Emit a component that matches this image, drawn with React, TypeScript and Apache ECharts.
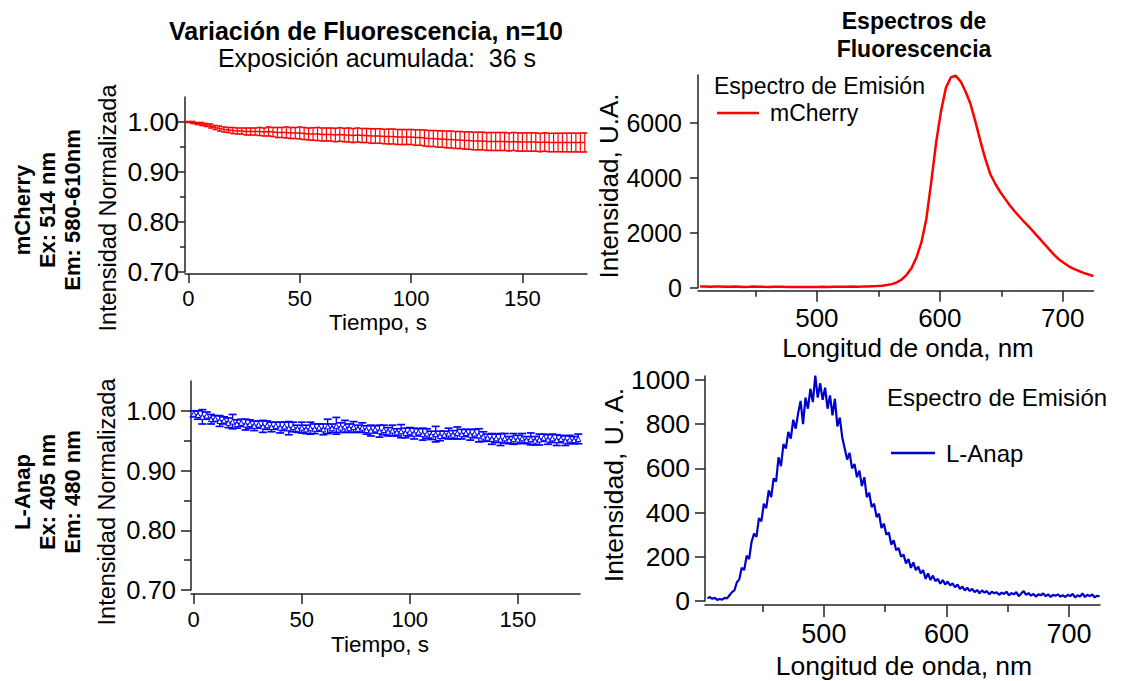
import React, { useEffect, useRef } from 'react';
import * as echarts from 'echarts';

// ---------- data ----------
const TIME_STEP = 2; // s between frames

const MCHERRY_MEAN = [
  1.000, 0.999, 0.997, 0.996, 0.994, 0.992, 0.989, 0.987, 0.985, 0.984,
  0.983, 0.982, 0.982, 0.981, 0.981, 0.981, 0.981, 0.980, 0.981, 0.980,
  0.979, 0.979, 0.979, 0.978, 0.978, 0.978, 0.977, 0.976, 0.976, 0.976,
  0.975, 0.975, 0.975, 0.974, 0.975, 0.974, 0.974, 0.973, 0.974, 0.973,
  0.973, 0.972, 0.972, 0.972, 0.971, 0.971, 0.971, 0.970, 0.970, 0.970,
  0.970, 0.969, 0.969, 0.968, 0.967, 0.967, 0.966, 0.966, 0.965, 0.965,
  0.964, 0.964, 0.963, 0.963, 0.962, 0.962, 0.962, 0.961, 0.961, 0.961,
  0.961, 0.961, 0.960, 0.961, 0.960, 0.960, 0.960, 0.960, 0.960, 0.959,
  0.960, 0.959, 0.959, 0.959, 0.959, 0.959, 0.959, 0.959, 0.959, 0.959,
];
const MCHERRY_ERR = [
  0.001, 0.002, 0.002, 0.003, 0.003, 0.004, 0.004, 0.005, 0.005, 0.005,
  0.006, 0.006, 0.006, 0.007, 0.007, 0.007, 0.008, 0.008, 0.009, 0.009,
  0.010, 0.010, 0.011, 0.011, 0.011, 0.012, 0.012, 0.012, 0.0125, 0.013,
  0.013, 0.013, 0.013, 0.0135, 0.0135, 0.0135, 0.014, 0.014, 0.014, 0.014,
  0.014, 0.0145, 0.0145, 0.0145, 0.0145, 0.015, 0.015, 0.015, 0.015, 0.015,
  0.015, 0.0155, 0.0155, 0.016, 0.016, 0.016, 0.0165, 0.0165, 0.0167, 0.017,
  0.017, 0.017, 0.0173, 0.0175, 0.0175, 0.0177, 0.0177, 0.0178, 0.018, 0.018,
  0.018, 0.018, 0.018, 0.018, 0.0182, 0.0182, 0.0182, 0.0183, 0.0183, 0.0184,
  0.0184, 0.0185, 0.0185, 0.0186, 0.0186, 0.0187, 0.0188, 0.0188, 0.019, 0.019,
];

const LANAP_MEAN = [
  0.995, 0.993, 0.990, 0.992, 0.986, 0.987, 0.983, 0.984, 0.980, 0.982,
  0.978, 0.980, 0.977, 0.978, 0.975, 0.977, 0.974, 0.976, 0.973, 0.975,
  0.972, 0.974, 0.971, 0.973, 0.970, 0.972, 0.969, 0.971, 0.970, 0.972,
  0.969, 0.974, 0.971, 0.975, 0.972, 0.974, 0.971, 0.973, 0.970, 0.972,
  0.968, 0.967, 0.969, 0.966, 0.968, 0.965, 0.967, 0.964, 0.966, 0.963,
  0.965, 0.962, 0.964, 0.961, 0.962, 0.959, 0.961, 0.958, 0.960, 0.962,
  0.960, 0.963, 0.961, 0.963, 0.960, 0.962, 0.959, 0.957, 0.955, 0.953,
  0.954, 0.952, 0.954, 0.951, 0.953, 0.952, 0.954, 0.951, 0.953, 0.950,
  0.952, 0.955, 0.952, 0.954, 0.951, 0.953, 0.950, 0.952, 0.951, 0.953,
];
const LANAP_ERR = [
  0.005, 0.007, 0.012, 0.006, 0.008, 0.005, 0.009, 0.006, 0.008, 0.012,
  0.007, 0.006, 0.009, 0.007, 0.008, 0.006, 0.010, 0.007, 0.008, 0.006,
  0.009, 0.007, 0.011, 0.008, 0.006, 0.009, 0.007, 0.010, 0.008, 0.006,
  0.009, 0.012, 0.007, 0.014, 0.008, 0.010, 0.007, 0.009, 0.006, 0.008,
  0.007, 0.009, 0.006, 0.010, 0.008, 0.007, 0.009, 0.006, 0.011, 0.008,
  0.007, 0.009, 0.006, 0.010, 0.008, 0.007, 0.013, 0.008, 0.006, 0.009,
  0.007, 0.010, 0.008, 0.006, 0.009, 0.007, 0.011, 0.008, 0.006, 0.009,
  0.007, 0.010, 0.008, 0.006, 0.009, 0.007, 0.008, 0.006, 0.010, 0.007,
  0.009, 0.006, 0.008, 0.007, 0.009, 0.006, 0.008, 0.007, 0.006, 0.008,
];

const MCHERRY_WL_START = 405;
const MCHERRY_WL_STEP = 4;
const MCHERRY_SPECTRUM = [
  40, 45, 38, 42, 40, 35, 38, 42, 36, 30,
  34, 40, 36, 32, 30, 35, 38, 33, 30, 28,
  25, 30, 28, 24, 28, 32, 30, 35, 38, 33,
  36, 40, 38, 42, 48, 55, 62, 75, 95, 130,
  195, 300, 470, 720, 1100, 1650, 2500, 3850, 5300, 6450,
  7300, 7680, 7730, 7520, 7150, 6700, 6050, 5350, 4700, 4150,
  3800, 3500, 3250, 3000, 2780, 2580, 2380, 2200, 2000, 1800,
  1600, 1400, 1200, 1030, 900, 780, 690, 610, 540, 480,
  420,
];

const LANAP_WL_START = 405;
const LANAP_WL_STEP = 2;
const LANAP_SPECTRUM = [
  12, 18, 10, 14, 5, 9, 6, 14, 12, 26,
  40, 48, 85, 98, 150, 140, 205, 190, 268, 305,
  290, 375, 360, 440, 420, 500, 470, 555, 540, 650,
  610, 710, 690, 765, 735, 820, 780, 850, 905, 800,
  920, 870, 960, 900, 1020, 920, 985, 910, 965, 870,
  930, 840, 915, 790, 830, 740, 690, 640, 670, 600,
  620, 560, 590, 520, 560, 470, 490, 425, 440, 380,
  395, 330, 350, 300, 310, 255, 275, 230, 240, 200,
  210, 170, 190, 150, 175, 140, 155, 125, 140, 100,
  125, 95, 115, 90, 100, 78, 95, 75, 88, 70,
  80, 62, 75, 55, 65, 48, 60, 45, 55, 40,
  50, 35, 48, 38, 45, 30, 42, 35, 40, 28,
  38, 32, 42, 25, 36, 30, 40, 22, 34, 45,
  28, 36, 24, 32, 20, 30, 26, 34, 22, 30,
  18, 28, 24, 30, 20, 26, 18, 28, 22, 32,
  16, 26, 20, 34, 18, 28, 22, 30, 16, 24,
  20,
];

const TIME_TICKS = [0, 50, 100, 150];
const NORM_TICKS = [0.7, 0.8, 0.9, 1.0];
const NORM_MINOR = [0.75, 0.85, 0.95];
const WL_TICKS = [500, 600, 700];
const WL_MINOR = [450, 550, 650];
const CHERRY_Y_TICKS = [0, 2000, 4000, 6000];
const ANAP_Y_TICKS = [0, 200, 400, 600, 800, 1000];

// ---------- styling ----------
const FONT = '"Liberation Sans", Arial, Helvetica, sans-serif';
const AX = '#222';
const RED = '#ff0000';
const BLUE = '#0000ff';
const DBLUE = '#0000cd';

type AxOpt = {
  grid: number; min: number; max: number; ticks: number[];
  offset?: number; tickLen: number; fontSize?: number; margin?: number;
  fmt?: (v: number) => string; minor?: boolean; pos: string;
};

function axis(o: AxOpt) {
  return {
    type: 'value', gridIndex: o.grid, min: o.min, max: o.max, position: o.pos,
    offset: o.offset || 0, scale: true,
    axisLine: { show: !o.minor, onZero: false, lineStyle: { color: AX, width: 1.5 } },
    axisTick: { show: true, customValues: o.ticks, length: o.tickLen, lineStyle: { color: AX, width: 1.5 } },
    axisLabel: {
      show: !o.minor, customValues: o.ticks, margin: o.margin || 8, color: '#000',
      fontSize: o.fontSize || 20, fontFamily: FONT, formatter: o.fmt || ((v: number) => String(Math.round(v))),
    },
    splitLine: { show: false }, minorTick: { show: false }, minorSplitLine: { show: false },
  };
}

function errorBars(xIdx: number, yIdx: number, means: number[], errs: number[], color: string, capW: number, lw: number) {
  const data = means.map((m, i) => [i * TIME_STEP, m, errs[i]]);
  return {
    type: 'custom', xAxisIndex: xIdx, yAxisIndex: yIdx, data, encode: { x: 0, y: 1 }, silent: true, z: 2,
    renderItem: (_p: any, api: any) => {
      const x = api.value(0), y = api.value(1), e = api.value(2);
      const a = api.coord([x, y + e]);
      const b = api.coord([x, y - e]);
      const h = capW / 2;
      const st = { stroke: color, lineWidth: lw };
      return {
        type: 'group', children: [
          { type: 'line', shape: { x1: a[0], y1: a[1], x2: b[0], y2: b[1] }, style: st },
          { type: 'line', shape: { x1: a[0] - h, y1: a[1], x2: a[0] + h, y2: a[1] }, style: { stroke: color, lineWidth: lw + 0.4 } },
          { type: 'line', shape: { x1: b[0] - h, y1: b[1], x2: b[0] + h, y2: b[1] }, style: { stroke: color, lineWidth: lw + 0.4 } },
        ],
      };
    },
  };
}

function txt(text: string, x: number, y: number, size: number, opts: any = {}) {
  return {
    type: 'text', x, y, rotation: opts.rot || 0, silent: true,
    style: {
      text, fill: '#000', fontSize: size, fontFamily: FONT, fontWeight: opts.bold ? 'bold' : 'normal',
      align: opts.align || 'center', verticalAlign: 'middle', lineHeight: opts.lh || size * 1.15,
    },
  };
}

const fmt2 = (v: number) => v.toFixed(2);

export default function App() {
  const ref = useRef<HTMLDivElement>(null);
  useEffect(() => {
    if (!ref.current) return;
    const chart = echarts.init(ref.current, undefined, { renderer: 'svg' });
    const R = Math.PI / 2;
    const option: any = {
      animation: false,
      backgroundColor: '#fff',
      textStyle: { fontFamily: FONT },
      grid: [
        { left: 185, top: 97, width: 402, height: 175, outerBoundsMode: 'none' },
        { left: 191, top: 381, width: 389, height: 209, outerBoundsMode: 'none' },
        { left: 698, top: 75, width: 395.5, height: 212.7, outerBoundsMode: 'none' },
        { left: 705, top: 376, width: 395, height: 225, outerBoundsMode: 'none' },
      ],
      xAxis: [
        axis({ grid: 0, min: -1.5, max: 179, ticks: TIME_TICKS, offset: 2, tickLen: 9, fontSize: 22, margin: 13, pos: 'bottom' }),
        axis({ grid: 1, min: -1.25, max: 178.8, ticks: TIME_TICKS, offset: 4, tickLen: 10, fontSize: 22, margin: 14, pos: 'bottom' }),
        axis({ grid: 2, min: 403.3, max: 725, ticks: WL_TICKS, offset: 3, tickLen: 11, fontSize: 26, margin: 14, pos: 'bottom' }),
        axis({ grid: 3, min: 403, max: 725.3, ticks: WL_TICKS, offset: 4, tickLen: 12, fontSize: 27, margin: 15, pos: 'bottom' }),
        axis({ grid: 2, min: 403.3, max: 725, ticks: WL_MINOR, offset: 3, tickLen: 6, minor: true, pos: 'bottom' }),
        axis({ grid: 3, min: 403, max: 725.3, ticks: WL_MINOR, offset: 4, tickLen: 7, minor: true, pos: 'bottom' }),
      ],
      yAxis: [
        axis({ grid: 0, min: 0.7, max: 1.05, ticks: NORM_TICKS, tickLen: 7, fontSize: 26.5, margin: 6, fmt: fmt2, pos: 'left' }),
        axis({ grid: 1, min: 0.7, max: 1.05, ticks: NORM_TICKS, tickLen: 10, fontSize: 25.5, margin: 15, fmt: fmt2, pos: 'left' }),
        axis({ grid: 2, min: 0, max: 7760, ticks: CHERRY_Y_TICKS, tickLen: 8, fontSize: 25, margin: 16, pos: 'left' }),
        axis({ grid: 3, min: 0, max: 1018, ticks: ANAP_Y_TICKS, tickLen: 10, fontSize: 26.5, margin: 15, pos: 'left' }),
        axis({ grid: 0, min: 0.7, max: 1.05, ticks: NORM_MINOR, tickLen: 5, minor: true, pos: 'left' }),
        axis({ grid: 1, min: 0.7, max: 1.05, ticks: NORM_MINOR, tickLen: 7, minor: true, pos: 'left' }),
      ],
      series: [
        errorBars(0, 0, MCHERRY_MEAN, MCHERRY_ERR, RED, 5, 1.2),
        {
          type: 'line', xAxisIndex: 0, yAxisIndex: 0, showSymbol: false, silent: true, z: 3,
          data: MCHERRY_MEAN.map((m, i) => [i * TIME_STEP, m]),
          lineStyle: { color: RED, width: 1.5 },
        },
        errorBars(1, 1, LANAP_MEAN, LANAP_ERR, BLUE, 8, 1.3),
        {
          type: 'line', xAxisIndex: 1, yAxisIndex: 1, silent: true, z: 3,
          symbol: 'triangle', symbolSize: 5, showSymbol: true,
          itemStyle: { color: '#fff', borderColor: BLUE, borderWidth: 1 },
          data: LANAP_MEAN.map((m, i) => [i * TIME_STEP, m]),
          lineStyle: { color: BLUE, width: 1.3 },
        },
        {
          type: 'line', xAxisIndex: 2, yAxisIndex: 2, showSymbol: false, silent: true,
          data: MCHERRY_SPECTRUM.map((v, i) => [MCHERRY_WL_START + i * MCHERRY_WL_STEP, v]),
          lineStyle: { color: RED, width: 2.5 },
        },
        {
          type: 'line', xAxisIndex: 3, yAxisIndex: 3, showSymbol: false, silent: true,
          data: LANAP_SPECTRUM.map((v, i) => [LANAP_WL_START + i * LANAP_WL_STEP, v]),
          lineStyle: { color: DBLUE, width: 2.2 },
        },
      ],
      graphic: [
        txt('Variación de Fluorescencia, n=10', 366, 31, 25, { bold: true, lh: 24 }),
        txt('Exposición acumulada:  36 s', 377, 58, 25, { lh: 25 }),
        txt('Espectros de', 914, 21, 23, { bold: true, lh: 24 }),
        txt('Fluorescencia', 914, 49, 23, { bold: true, lh: 24 }),
        txt('mCherry\nEx: 514 nm\nEm: 580-610nm', 47, 210, 22, { bold: true, rot: R, lh: 25 }),
        txt('L-Anap\nEx: 405 nm\nEm: 480 nm', 47, 492, 22, { bold: true, rot: R, lh: 25 }),
        txt('Intensidad Normalizada', 108, 208, 23.5, { rot: R }),
        txt('Intensidad Normalizada', 107, 502, 23.5, { rot: R }),
        txt('Tiempo, s', 378, 322, 22.5, { lh: 22 }),
        txt('Tiempo, s', 380, 644, 22.5, { lh: 22 }),
        txt('Intensidad, U.A.', 609, 186, 26, { rot: R }),
        txt('Intensidad, U. A.', 614, 485, 26.5, { rot: R }),
        txt('Longitud de onda, nm', 908, 348, 26, { lh: 26 }),
        txt('Longitud de onda, nm', 904, 666, 26.5, { lh: 26 }),
        txt('Espectro de Emisión', 714, 86, 23, { align: 'left' }),
        { type: 'line', silent: true, shape: { x1: 717, y1: 113, x2: 759, y2: 113 }, style: { stroke: RED, lineWidth: 2.5 } },
        txt('mCherry', 770, 113, 23, { align: 'left' }),
        txt('Espectro de Emisión', 887, 397, 24, { align: 'left' }),
        { type: 'line', silent: true, shape: { x1: 891, y1: 453, x2: 935, y2: 453 }, style: { stroke: DBLUE, lineWidth: 2.5 } },
        txt('L-Anap', 946, 453, 24, { align: 'left' }),
      ],
    };
    chart.setOption(option);
    return () => chart.dispose();
  }, []);
  return (
    <div
      ref={ref}
      style={{ position: 'fixed', left: 0, top: 0, width: 1128, height: 681, background: '#fff' }}
    />
  );
}
